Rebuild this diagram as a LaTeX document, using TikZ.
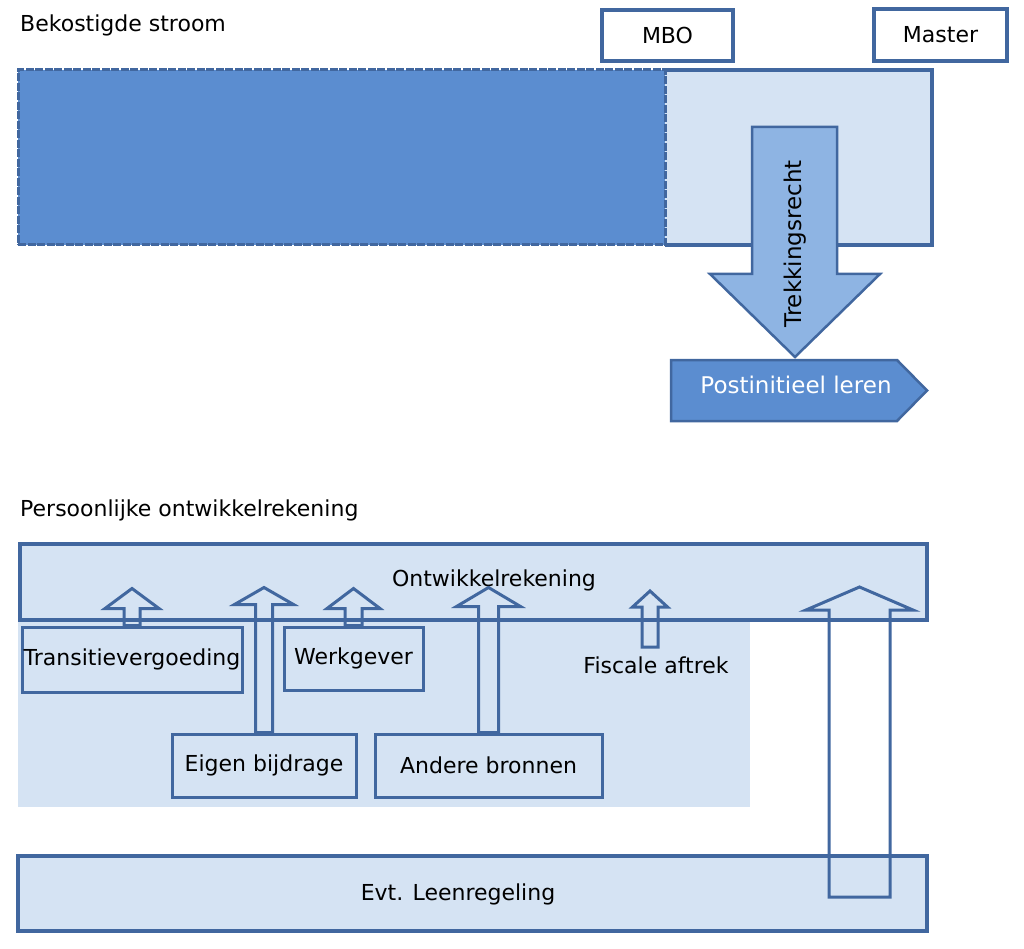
\documentclass[tikz,border=0pt]{standalone}
\usepackage{fontspec}
\setmainfont{DejaVu Sans}
\usetikzlibrary{calc}
\definecolor{edgeblue}{HTML}{41679F}
\definecolor{darkfill}{HTML}{5B8DD0}
\definecolor{midfill}{HTML}{8EB4E3}
\definecolor{lightfill}{HTML}{D5E3F3}
\newcommand\blockup[5]{%
  \draw[hollow] ($(#1)+(-#3,0)$) -- ++(0,-#2) -- ++(#3-#4,0) -- ++(#4,-#5)
    -- ++(#4,#5) -- ++(#3-#4,0) -- ++(0,#2) -- cycle;}
\begin{document}
\begin{tikzpicture}[x=1pt, y=-1pt,
    font=\fontsize{22pt}{26pt}\selectfont,
    tagbox/.style = {shape=rectangle, draw=edgeblue, line width=3.5pt,
      fill=white, align=center},
    plainbox/.style = {shape=rectangle, draw=edgeblue, line width=3pt,
      fill=lightfill, inner sep=1pt, align=center},
    bar/.style = {shape=rectangle, draw=edgeblue, line width=3.5pt,
      fill=lightfill},
    hollow/.style = {draw=edgeblue, line width=3pt},
    biglabel/.style = {font=\fontsize{23pt}{27pt}\selectfont}]
    \useasboundingbox (0,0) rectangle (1024,949);

    \node[anchor=base west, inner sep=0pt] (toptitle) at (20,32) {Bekostigde stroom};
    \node[tagbox, minimum width=131pt, minimum height=51pt] (mbo) at (667.5,35.5) {MBO};
    \node[tagbox, minimum width=133pt, minimum height=52pt] (master) at (940.5,35) {Master};

    \node[fill=lightfill, minimum width=267pt, minimum height=175pt] (extra) at (798.5,157.5) {};
    \draw[edgeblue, line width=3.5pt] (extra.north west) -- (extra.north east)
        -- (extra.south east) -- (extra.south west);
    \node[draw=edgeblue, line width=3pt, dash pattern=on 8pt off 1.5pt,
        fill=darkfill, minimum width=647pt, minimum height=175pt] (funded) at (341.5,157.5) {};

    \draw[edgeblue, line width=2.5pt, fill=midfill] (752,127) -- (837,127) -- (837,274)
        -- (880,274) -- (795,357) -- (710,274) -- (752,274) -- cycle;
    \node[biglabel, rotate=90] (trekk) at (795,244) {Trekkingsrecht};
    \draw[edgeblue, line width=2.5pt, fill=darkfill] (671,360) -- (897,360) -- (927,390.5)
        -- (897,421) -- (671,421) -- cycle;
    \node[biglabel, text=white] (postinit) at (796,385) {Postinitieel leren};

    \node[anchor=base west, inner sep=0pt] (lowtitle) at (20,516) {Persoonlijke ontwikkelrekening};
    \fill[lightfill] (18,620) rectangle (750,807);
    \node[bar, minimum width=907pt, minimum height=76pt] (account) at (473.5,582) {};
    \node (accountlabel) at (494,580) {Ontwikkelrekening};
    \node[bar, minimum width=909pt, minimum height=75pt] (loan) at (472.5,893.5) {};
    \node (loanlabel) at (458,894) {Evt. Leenregeling};

    \node[plainbox, minimum width=220pt, minimum height=65pt] (trans) at (132,659.5) {Transitievergoeding};
    \node[plainbox, minimum width=139pt, minimum height=63pt] (werk) at (353.5,658.5) {Werkgever};
    \node[plainbox, minimum width=184pt, minimum height=63pt] (eigen) at (264,765.5) {Eigen bijdrage};
    \node[plainbox, minimum width=227pt, minimum height=63pt] (andere) at (488.5,765.5) {Andere bronnen};
    \node (fiscal) at (656,665) {Fiscale aftrek};
    \coordinate (fiscbase) at (650,647);
    \coordinate (loanbase) at (859.5,897);

    \blockup{trans.north}{17}{8}{27}{20}
    \blockup{eigen.north}{128}{8.5}{29.5}{17}
    \blockup{werk.north}{17}{8.5}{26.5}{20}
    \blockup{andere.north}{126}{10}{32}{19}
    \blockup{fiscbase}{40}{8}{17.5}{16}
    \blockup{loanbase}{287}{30.5}{53.5}{23}
\end{tikzpicture}
\end{document}
